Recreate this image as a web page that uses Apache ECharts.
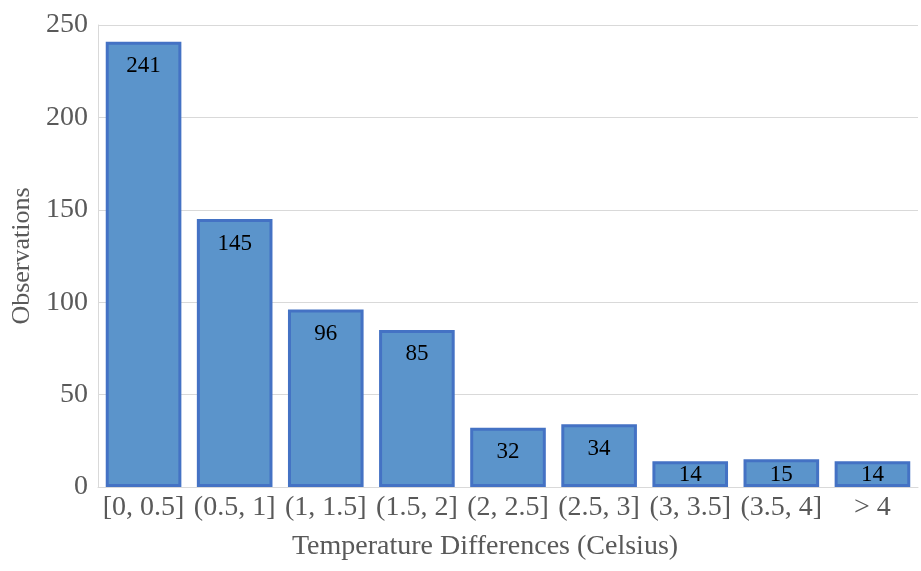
<!DOCTYPE html>
<html><head><meta charset="utf-8">
<script src="https://cdn.jsdelivr.net/npm/echarts@6/dist/echarts.min.js"></script>
<style>html,body{margin:0;padding:0;background:#fff}#c{width:921px;height:571px}</style>
</head><body><div id="c"></div>
<script>
var categories = ['[0, 0.5]', '(0.5, 1]', '(1, 1.5]', '(1.5, 2]', '(2, 2.5]', '(2.5, 3]', '(3, 3.5]', '(3.5, 4]', '> 4'];
var observations = [241, 145, 96, 85, 32, 34, 14, 15, 14];
var yTicks = [0, 50, 100, 150, 200, 250];
var font = '"Liberation Serif", "Times New Roman", serif';
var chart = echarts.init(document.getElementById('c'));
chart.setOption({
  animation: false,
  grid: {left: 98, right: 3, top: 25, bottom: 84},
  xAxis: {
    type: 'category', data: categories,
    axisLine: {show: true, lineStyle: {color: '#d9d9d9', width: 1}},
    axisTick: {show: false},
    axisLabel: {color: '#595959', fontFamily: font, fontSize: 28, margin: 7, interval: 0},
    name: 'Temperature Differences (Celsius)', nameLocation: 'middle', nameGap: 46,
    nameTextStyle: {color: '#595959', fontFamily: font, fontSize: 28, padding: [0, 46, 0, 0]}
  },
  yAxis: {
    type: 'value', min: 0, max: 250, interval: 50,
    axisLine: {show: true, lineStyle: {color: '#d9d9d9', width: 1}},
    axisTick: {show: false},
    splitLine: {lineStyle: {color: '#d9d9d9', width: 1}},
    axisLabel: {color: '#595959', fontFamily: font, fontSize: 28, margin: 10,
      formatter: function (v) { return yTicks.indexOf(v) >= 0 ? String(v) : ''; }},
    name: 'Observations', nameLocation: 'middle', nameGap: 57,
    nameTextStyle: {color: '#595959', fontFamily: font, fontSize: 26}
  },
  series: [{
    type: 'bar', data: observations, barCategoryGap: '17%',
    itemStyle: {color: '#5b94cb', borderColor: '#4472c4', borderWidth: 3},
    label: {show: true, position: 'insideTop', distance: 13, color: '#000', fontFamily: font, fontSize: 23},
    labelLayout: function (p) {
      var r = p.rect, l = p.labelRect;
      var over = (l.y + l.height) - (r.y + r.height) + 1;
      return over > 0 ? {dy: -over} : {};
    }
  }]
});
</script></body></html>
